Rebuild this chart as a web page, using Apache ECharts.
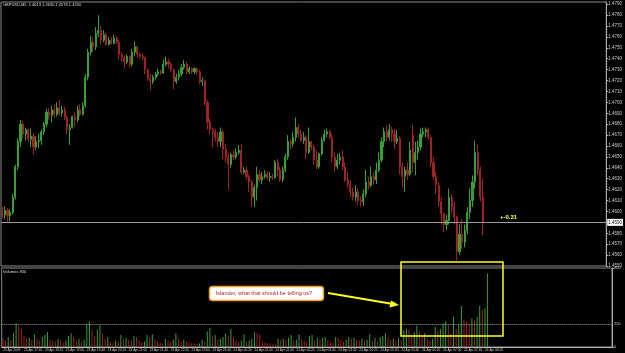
<!DOCTYPE html>
<html>
<head>
<meta charset="utf-8">
<script src="https://cdn.jsdelivr.net/npm/echarts@6/dist/echarts.min.js"></script>
<style>
  html, body { margin: 0; padding: 0; background: #000; }
  #chart { width: 625px; height: 353px; }
</style>
</head>
<body>
<div id="chart"></div>
<script>
// GBPUSD M5 bars: [open, close, low, high]
var ohlc = [
  [1.4599,1.4597,1.4594,1.4604],[1.4597,1.4601,1.4593,1.4605],[1.4601,1.4596,1.4590,1.4603],[1.4596,1.4599,1.4591,1.4602],
  [1.4599,1.4613,1.4597,1.4616],[1.4613,1.4641,1.4611,1.4643],[1.4641,1.4664,1.4638,1.4667],[1.4664,1.4680,1.4659,1.4684],
  [1.4680,1.4671,1.4667,1.4683],[1.4671,1.4675,1.4665,1.4677],[1.4675,1.4666,1.4664,1.4676],[1.4666,1.4669,1.4659,1.4676],
  [1.4669,1.4659,1.4652,1.4672],[1.4659,1.4664,1.4656,1.4669],[1.4664,1.4665,1.4658,1.4671],[1.4665,1.4673,1.4661,1.4675],
  [1.4673,1.4680,1.4670,1.4682],[1.4680,1.4691,1.4677,1.4694],[1.4691,1.4688,1.4684,1.4695],[1.4688,1.4693,1.4682,1.4697],
  [1.4693,1.4689,1.4686,1.4698],[1.4689,1.4695,1.4687,1.4700],[1.4695,1.4690,1.4688,1.4702],[1.4690,1.4693,1.4687,1.4697],
  [1.4693,1.4686,1.4684,1.4696],[1.4686,1.4675,1.4671,1.4688],[1.4675,1.4677,1.4661,1.4680],[1.4677,1.4687,1.4676,1.4688],
  [1.4687,1.4684,1.4677,1.4691],[1.4684,1.4693,1.4682,1.4697],[1.4693,1.4689,1.4687,1.4698],[1.4689,1.4697,1.4688,1.4700],
  [1.4697,1.4723,1.4695,1.4726],[1.4723,1.4746,1.4720,1.4749],[1.4746,1.4755,1.4743,1.4761],[1.4755,1.4751,1.4746,1.4760],
  [1.4751,1.4763,1.4748,1.4769],[1.4763,1.4766,1.4760,1.4780],[1.4766,1.4757,1.4753,1.4770],[1.4757,1.4762,1.4755,1.4766],
  [1.4762,1.4753,1.4752,1.4764],[1.4753,1.4757,1.4752,1.4760],[1.4757,1.4754,1.4753,1.4760],[1.4754,1.4759,1.4753,1.4762],
  [1.4759,1.4755,1.4753,1.4761],[1.4755,1.4744,1.4739,1.4757],[1.4744,1.4741,1.4737,1.4746],[1.4741,1.4737,1.4731,1.4743],
  [1.4737,1.4742,1.4735,1.4744],[1.4742,1.4735,1.4732,1.4743],[1.4735,1.4746,1.4733,1.4749],[1.4746,1.4751,1.4742,1.4756],
  [1.4751,1.4744,1.4741,1.4752],[1.4744,1.4742,1.4740,1.4746],[1.4742,1.4741,1.4739,1.4745],[1.4741,1.4730,1.4726,1.4742],
  [1.4730,1.4722,1.4720,1.4731],[1.4722,1.4719,1.4711,1.4726],[1.4719,1.4723,1.4717,1.4725],[1.4723,1.4726,1.4721,1.4728],
  [1.4726,1.4728,1.4724,1.4731],[1.4728,1.4727,1.4725,1.4730],[1.4727,1.4735,1.4726,1.4739],[1.4735,1.4737,1.4733,1.4742],
  [1.4737,1.4735,1.4731,1.4740],[1.4735,1.4730,1.4728,1.4737],[1.4730,1.4719,1.4712,1.4731],[1.4719,1.4723,1.4717,1.4726],
  [1.4723,1.4726,1.4720,1.4730],[1.4726,1.4732,1.4724,1.4735],[1.4732,1.4735,1.4730,1.4739],[1.4735,1.4728,1.4726,1.4737],
  [1.4728,1.4731,1.4726,1.4733],[1.4731,1.4728,1.4726,1.4732],[1.4728,1.4731,1.4726,1.4732],[1.4731,1.4728,1.4725,1.4732],
  [1.4728,1.4719,1.4717,1.4730],[1.4719,1.4720,1.4715,1.4723],[1.4720,1.4700,1.4697,1.4721],[1.4700,1.4682,1.4675,1.4702],
  [1.4682,1.4675,1.4671,1.4685],[1.4675,1.4673,1.4659,1.4677],[1.4673,1.4668,1.4664,1.4676],[1.4668,1.4664,1.4659,1.4673],
  [1.4664,1.4673,1.4659,1.4677],[1.4673,1.4657,1.4648,1.4675],[1.4657,1.4650,1.4645,1.4662],[1.4650,1.4643,1.4620,1.4654],
  [1.4643,1.4652,1.4640,1.4654],[1.4652,1.4650,1.4647,1.4656],[1.4650,1.4654,1.4648,1.4658],[1.4654,1.4656,1.4652,1.4661],
  [1.4656,1.4636,1.4634,1.4662],[1.4636,1.4638,1.4634,1.4641],[1.4638,1.4632,1.4629,1.4641],[1.4632,1.4627,1.4618,1.4634],
  [1.4627,1.4613,1.4604,1.4629],[1.4613,1.4622,1.4604,1.4624],[1.4622,1.4634,1.4610,1.4641],[1.4634,1.4629,1.4627,1.4638],
  [1.4629,1.4632,1.4625,1.4636],[1.4632,1.4634,1.4630,1.4638],[1.4634,1.4631,1.4629,1.4637],[1.4631,1.4632,1.4627,1.4636],
  [1.4632,1.4631,1.4629,1.4634],[1.4631,1.4645,1.4630,1.4647],[1.4645,1.4638,1.4632,1.4648],[1.4638,1.4629,1.4627,1.4641],
  [1.4629,1.4638,1.4627,1.4641],[1.4638,1.4650,1.4636,1.4653],[1.4650,1.4664,1.4647,1.4670],[1.4664,1.4662,1.4657,1.4666],
  [1.4662,1.4668,1.4659,1.4673],[1.4668,1.4677,1.4664,1.4686],[1.4677,1.4671,1.4668,1.4680],[1.4671,1.4665,1.4664,1.4675],
  [1.4665,1.4668,1.4662,1.4673],[1.4668,1.4654,1.4648,1.4670],[1.4654,1.4664,1.4653,1.4677],[1.4664,1.4659,1.4656,1.4665],
  [1.4659,1.4647,1.4643,1.4661],[1.4647,1.4641,1.4639,1.4656],[1.4641,1.4653,1.4639,1.4654],[1.4653,1.4665,1.4651,1.4668],
  [1.4665,1.4671,1.4664,1.4675],[1.4671,1.4673,1.4668,1.4676],[1.4673,1.4668,1.4666,1.4675],[1.4668,1.4650,1.4645,1.4671],
  [1.4650,1.4641,1.4636,1.4654],[1.4641,1.4647,1.4639,1.4653],[1.4647,1.4650,1.4643,1.4654],[1.4650,1.4641,1.4638,1.4656],
  [1.4641,1.4629,1.4627,1.4645],[1.4629,1.4625,1.4621,1.4636],[1.4625,1.4618,1.4613,1.4629],[1.4618,1.4613,1.4610,1.4622],
  [1.4613,1.4618,1.4609,1.4624],[1.4618,1.4610,1.4606,1.4621],[1.4610,1.4609,1.4604,1.4614],[1.4609,1.4616,1.4605,1.4620],
  [1.4616,1.4627,1.4613,1.4638],[1.4627,1.4624,1.4620,1.4632],[1.4624,1.4632,1.4622,1.4641],[1.4632,1.4629,1.4625,1.4636],
  [1.4629,1.4638,1.4625,1.4645],[1.4638,1.4647,1.4636,1.4654],[1.4647,1.4664,1.4645,1.4668],[1.4664,1.4673,1.4659,1.4677],
  [1.4673,1.4668,1.4664,1.4679],[1.4668,1.4675,1.4665,1.4680],[1.4675,1.4671,1.4664,1.4678],[1.4671,1.4664,1.4657,1.4676],
  [1.4664,1.4667,1.4662,1.4675],[1.4667,1.4641,1.4634,1.4669],[1.4641,1.4632,1.4622,1.4645],[1.4632,1.4638,1.4618,1.4641],
  [1.4638,1.4634,1.4629,1.4645],[1.4634,1.4656,1.4632,1.4664],[1.4670,1.4645,1.4636,1.4679],[1.4645,1.4654,1.4633,1.4664],
  [1.4654,1.4659,1.4647,1.4665],[1.4659,1.4671,1.4656,1.4676],[1.4671,1.4673,1.4668,1.4677],[1.4673,1.4675,1.4668,1.4677],
  [1.4675,1.4668,1.4666,1.4677],[1.4668,1.4645,1.4641,1.4670],[1.4645,1.4632,1.4629,1.4650],[1.4632,1.4624,1.4616,1.4636],
  [1.4624,1.4609,1.4604,1.4627],[1.4609,1.4598,1.4588,1.4613],[1.4598,1.4588,1.4581,1.4599],[1.4588,1.4592,1.4583,1.4597],
  [1.4592,1.4613,1.4588,1.4621],[1.4613,1.4604,1.4598,1.4616],[1.4604,1.4595,1.4588,1.4609],[1.4595,1.4563,1.4555,1.4596],
  [1.4563,1.4579,1.4560,1.4588],[1.4579,1.4572,1.4565,1.4593],[1.4572,1.4583,1.4567,1.4588],[1.4583,1.4599,1.4579,1.4604],
  [1.4599,1.4610,1.4593,1.4621],[1.4610,1.4627,1.4604,1.4633],[1.4627,1.4654,1.4621,1.4665],[1.4654,1.4638,1.4633,1.4661],
  [1.4638,1.4613,1.4609,1.4641],[1.4613,1.4590,1.4578,1.4630]
];

// tick volume per bar
var volumes = [
  90,70,110,80,150,260,230,200,120,90,
  100,80,140,90,70,110,130,160,80,70,
  60,90,80,50,70,120,150,110,70,90,
  60,80,250,280,180,120,190,240,150,90,
  110,60,50,70,60,130,90,100,80,70,
  120,110,70,50,60,130,110,140,80,60,
  50,40,90,70,60,80,150,90,60,80,
  60,50,40,40,30,40,80,60,170,210,
  120,130,80,90,110,150,120,200,110,70,
  60,70,140,60,70,90,160,150,140,60,
  50,40,40,30,30,90,80,90,80,100,
  130,70,80,140,90,70,60,120,130,70,
  100,90,100,110,70,50,40,110,100,80,
  60,80,110,90,100,80,70,90,70,80,
  140,70,100,60,110,120,150,110,80,90,
  70,100,80,180,200,190,120,160,230,170,
  110,150,90,70,90,220,180,200,260,280,
  240,150,330,200,240,450,300,280,250,310,
  290,330,450,400,420,800
];

var symbolTitle = 'GBPUSD,M5  1.4613 1.4630 1.4578 1.4590';
var volLevel = 250;
var futureBars = 47;   // empty space to the right (chart shift)

var up = '#35a035', down = '#a02222';

// bar times, 5 minutes apart from 23 Apr 2009 17:00
var months = ['Jan','Feb','Mar','Apr','May','Jun','Jul','Aug','Sep','Oct','Nov','Dec'];
var categories = [];
var t0 = Date.UTC(2009, 3, 23, 17, 0);
for (var i = 0; i < ohlc.length + futureBars; i++) {
    var d = new Date(t0 + i * 300000);
    var hh = ('0' + d.getUTCHours()).slice(-2), mm = ('0' + d.getUTCMinutes()).slice(-2);
    categories.push(d.getUTCDate() + ' ' + months[d.getUTCMonth()] + ' ' + (i === 0 ? '2009' : hh + ':' + mm));
}

// volume bars: green if higher than previous bar, red otherwise
var volData = volumes.map(function (v, i) {
    return { value: v, itemStyle: { color: (i > 0 && v > volumes[i - 1]) ? up : down } };
});

var last = ohlc[ohlc.length - 1][1];
var chart = echarts.init(document.getElementById('chart'));

var option = {
    backgroundColor: '#000',
    animation: false,
    textStyle: { fontFamily: 'Liberation Sans, Arial, sans-serif' },
    grid: [
        { left: 1, right: 13, top: 2, bottom: 87, show: true, borderColor: '#8a8a8a', borderWidth: 1 },
        { left: 1, right: 13, top: 268, bottom: 6, show: true, borderColor: '#8a8a8a', borderWidth: 1 }
    ],
    xAxis: [
        { type: 'category', gridIndex: 0, data: categories, boundaryGap: true,
          axisLine: { show: false }, axisTick: { show: false }, axisLabel: { show: false } },
        { type: 'category', gridIndex: 1, data: categories, boundaryGap: true,
          axisLine: { lineStyle: { color: '#bbb' } },
          axisTick: { interval: 7, length: 2, lineStyle: { color: '#bbb' } },
          axisLabel: {
              interval: 7, color: '#ccc', fontSize: 3.2, margin: 2, align: 'left',
              formatter: function (v, idx) { return idx < ohlc.length ? v : ''; }
          } }
    ],
    yAxis: [
        { type: 'value', gridIndex: 0, position: 'right', min: 1.455, max: 1.4792, interval: 0.001,
          axisLine: { show: true, lineStyle: { color: '#aaa' } },
          axisTick: { show: true, length: 2, lineStyle: { color: '#aaa' } },
          splitLine: { show: false },
          axisLabel: { color: '#ccc', fontSize: 4.5, margin: 2, showMaxLabel: false,
                       formatter: function (v) { return v.toFixed(4); } } },
        { type: 'value', gridIndex: 1, position: 'right', min: 0, max: 860, interval: 860,
          axisLine: { show: true, lineStyle: { color: '#aaa' } },
          axisTick: { show: true, length: 2, lineStyle: { color: '#aaa' } },
          splitLine: { show: false },
          axisLabel: { color: '#ccc', fontSize: 4, margin: 2 } }
    ],
    series: [
        {
            type: 'candlestick', xAxisIndex: 0, yAxisIndex: 0, data: ohlc, barWidth: 1.6,
            itemStyle: { color: up, color0: down, borderColor: up, borderColor0: down, borderWidth: 1 }
        },
        {
            // bid price line
            type: 'line', xAxisIndex: 0, yAxisIndex: 0, data: [], silent: true,
            markLine: {
                silent: true, symbol: 'none', animation: false, precision: 4,
                lineStyle: { color: '#9a9a9a', width: 1, type: 'solid' },
                label: { position: 'end', distance: 1, fontSize: 4.5, color: '#000', backgroundColor: '#fff',
                         padding: [1, 1], formatter: function (p) { return p.value.toFixed(4); } },
                data: [{ yAxis: last }]
            }
        },
        {
            type: 'bar', xAxisIndex: 1, yAxisIndex: 1, data: volData, barWidth: 1,
            markLine: {
                silent: true, symbol: 'none', precision: 0,
                lineStyle: { color: '#9a9a9a', width: 1, type: 'dotted' },
                label: { position: 'end', distance: 2, fontSize: 4, color: '#ccc' },
                data: [{ yAxis: volLevel }]
            }
        }
    ],
    graphic: [
        { type: 'text', left: 3, top: 3, style: { text: symbolTitle, fill: '#ddd', font: '4px Liberation Sans' } },
        { type: 'text', left: 3, top: 270, style: { text: 'Volumes ' + volumes[volumes.length - 1], fill: '#ddd', font: '4px Liberation Sans' } },
        { type: 'text', left: 500, top: 214, style: { text: '+-0.31', fill: '#ffff40', font: 'bold 6px Liberation Sans' } },
        { type: 'rect', shape: { x: 401, y: 262, width: 102, height: 74 },
          style: { fill: 'none', stroke: '#ffff20', lineWidth: 1.5 }, z: 10 },
        { type: 'rect', shape: { x: 209.5, y: 286.5, width: 114, height: 14, r: 3 },
          style: { fill: '#fff', stroke: '#f0a020', lineWidth: 1.5 }, z: 10 },
        { type: 'text', x: 264, y: 293.5, z: 11,
          style: { text: 'Islander, what that should be telling us?', fill: '#b02828',
                   font: '5.5px Liberation Sans', textAlign: 'center', textVerticalAlign: 'middle' } },
        { type: 'line', shape: { x1: 328, y1: 293, x2: 393, y2: 304 },
          style: { stroke: '#ffff20', lineWidth: 2 }, z: 10 },
        { type: 'polygon', shape: { points: [[399, 305], [391, 300.5], [389.5, 307.5]] },
          style: { fill: '#ffff20' }, z: 10 }
    ]
};

chart.setOption(option);
</script>
</body>
</html>
